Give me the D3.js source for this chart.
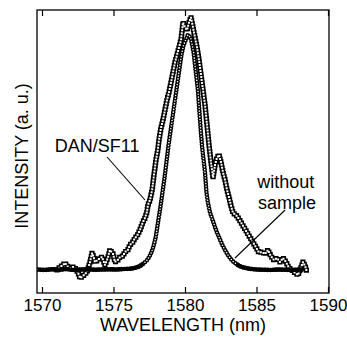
<!DOCTYPE html>
<html>
<head>
<meta charset="utf-8">
<script src="https://cdn.jsdelivr.net/npm/d3@7"></script>
<style>
  body { margin: 0; background: #fff; }
  text { font-family: "Liberation Sans", Arial, Helvetica, sans-serif; fill: #000; }
</style>
</head>
<body>
<svg width="347" height="338"></svg>
<script>
  // wavelength ticks (nm)
  var xTicks = [1570, 1575, 1580, 1585, 1590];

  // [wavelength nm, intensity a.u.]
  var withoutSample = [
    [1569.7,0.2],[1570.2,0.0],[1570.7,0.3],[1571.2,0.1],[1571.7,0.4],[1572.2,0.0],[1572.7,0.2],
    [1573.2,0.3],[1573.7,0.1],[1574.2,0.2],[1574.7,0.3],[1575.2,0.2],[1575.7,0.4],[1576.1,0.5],
    [1576.4,0.7],[1576.8,1.4],[1577.1,2.6],[1577.3,3.6],[1577.5,5.2],[1577.65,7.0],[1577.8,9.5],
    [1577.95,13],[1578.1,18.5],[1578.25,24],[1578.4,30],[1578.55,36],[1578.7,43],[1578.85,50],
    [1579.0,56],[1579.15,62],[1579.3,68],[1579.45,74],[1579.6,80],[1579.75,86],[1579.9,90],
    [1580.05,92],[1580.2,94],[1580.3,93.5],[1580.4,93],[1580.5,90],[1580.6,87],[1580.7,82],
    [1580.8,77],[1580.9,72],[1581.0,64],[1581.1,56],[1581.2,49],[1581.3,44],[1581.4,39],
    [1581.5,31],[1581.6,27],[1581.75,23],[1581.9,20.5],[1582.05,18],[1582.2,15.5],[1582.35,13.5],
    [1582.5,11.5],[1582.65,9.5],[1582.8,8],[1583.0,6],[1583.2,4.4],[1583.4,3.2],[1583.6,2.4],
    [1583.8,1.6],[1584.1,1.0],[1584.5,0.5],[1585.0,0.2],[1585.5,0.1],[1586.0,0.0],[1586.5,0.2],
    [1587.0,0.1],[1587.5,0.0],[1588.0,0.2],[1588.3,0.1]
  ];

  var danSF11 = [
    [1571.05,0],[1571.25,1.2],[1571.47,2],[1571.6,2.8],[1571.78,1.5],[1571.96,0.8],[1572.15,1.2],
    [1572.3,0.8],[1572.5,-0.8],[1572.66,-3.2],[1572.87,-2.4],[1573.0,-1.6],[1573.15,-0.8],
    [1573.36,3.2],[1573.5,6.8],[1573.6,5.5],[1573.7,3.2],[1573.9,4],[1574.05,4.8],[1574.2,5.2],
    [1574.4,2],[1574.6,4.8],[1574.75,8],[1574.97,6.4],[1575.1,3.2],[1575.3,4],[1575.45,5.2],
    [1575.66,5.6],[1575.8,7.2],[1576.0,8],[1576.15,10],[1576.36,11.2],[1576.5,12.8],[1576.64,13.6],
    [1576.85,16],[1577.06,19.2],[1577.2,20.8],[1577.34,23.2],[1577.41,26],[1577.55,28],[1577.7,32],
    [1577.83,38],[1577.97,44],[1578.1,48],[1578.18,52],[1578.32,56.8],[1578.46,60],[1578.6,64],
    [1578.74,68],[1578.88,71],[1579.02,75],[1579.16,79],[1579.3,83],[1579.44,86],[1579.58,89],
    [1579.72,92],[1579.8,96],[1579.86,99],[1580.0,97],[1580.14,96],[1580.28,99],[1580.42,101],
    [1580.56,97],[1580.7,93],[1580.84,89],[1580.98,84],[1581.12,78],[1581.26,72],[1581.4,66],
    [1581.54,58],[1581.68,50],[1581.82,43],[1581.96,37],[1582.1,42],[1582.24,45],[1582.38,46],
    [1582.52,43],[1582.66,39],[1582.8,36],[1582.94,32],[1583.08,29],[1583.22,25.6],[1583.36,22.8],
    [1583.57,22],[1583.7,21],[1583.92,19],[1584.13,17],[1584.34,15],[1584.55,13],[1584.76,11],
    [1584.97,9],[1585.17,7],[1585.38,7.2],[1585.6,6.4],[1585.8,8],[1586.0,5.6],[1586.22,4],
    [1586.43,4.8],[1586.64,3.2],[1586.85,4.8],[1587.06,3.2],[1587.27,0.8],[1587.48,0],
    [1587.7,-1.2],[1587.9,-2],[1588.1,0.8],[1588.25,3.2],[1588.4,1.6],[1588.53,-0.8]
  ];

  var svg = d3.select("svg");
  var frame = {left: 37, right: 329, top: 10, bottom: 293};

  var x = d3.scaleLinear().domain([1570, 1590]).range([42, 328]);
  var y = d3.scaleLinear().domain([0, 100]).range([270, 20]);

  svg.append("clipPath").attr("id", "plot")
    .append("rect")
    .attr("x", frame.left).attr("y", frame.top)
    .attr("width", frame.right - frame.left).attr("height", frame.bottom - frame.top);

  var line = d3.line()
    .x(function(d) { return x(d[0]); })
    .y(function(d) { return y(d[1]); });

  var g = svg.append("g").attr("clip-path", "url(#plot)");

  // markers as a chain of open symbols along the measured trace
  function drawSeries(data, cap, outer, inner, gap) {
    g.append("path").attr("d", line(data))
      .attr("fill", "none").attr("stroke", "#000")
      .attr("stroke-width", outer).attr("stroke-linecap", cap)
      .attr("stroke-dasharray", "0 " + gap);
    g.append("path").attr("d", line(data))
      .attr("fill", "none").attr("stroke", "#fff")
      .attr("stroke-width", inner).attr("stroke-linecap", cap)
      .attr("stroke-dasharray", "0 " + gap);
  }

  drawSeries(danSF11, "square", 5.2, 2.0, 3.0);
  drawSeries(withoutSample, "round", 4.6, 1.6, 2.8);

  // flat baseline of the reference trace looks solid
  g.append("path")
    .attr("d", d3.line()
      .defined(function(d) { return d[1] < 3; })
      .x(function(d) { return x(d[0]); })
      .y(function(d) { return y(d[1]); })(withoutSample))
    .attr("fill", "none").attr("stroke", "#000").attr("stroke-width", 4.2);

  // frame
  svg.append("rect")
    .attr("x", frame.left).attr("y", frame.top)
    .attr("width", frame.right - frame.left).attr("height", frame.bottom - frame.top)
    .attr("fill", "none").attr("stroke", "#000").attr("stroke-width", 1.3);

  var bottomAxis = svg.append("g")
    .attr("transform", "translate(0," + frame.bottom + ")")
    .call(d3.axisBottom(x).tickValues(xTicks).tickFormat(d3.format("d"))
      .tickSizeInner(-6).tickSizeOuter(0).tickPadding(6));
  bottomAxis.select(".domain").remove();
  bottomAxis.selectAll("line").attr("stroke", "#000").attr("stroke-width", 1.2);
  bottomAxis.selectAll("text").style("font-size", "17px")
    .style("font-family", "'Liberation Sans', Arial, Helvetica, sans-serif");

  var topAxis = svg.append("g")
    .attr("transform", "translate(0," + frame.top + ")")
    .call(d3.axisTop(x).tickValues(xTicks).tickSizeInner(-6).tickSizeOuter(0).tickFormat(""));
  topAxis.select(".domain").remove();
  topAxis.selectAll("line").attr("stroke", "#000").attr("stroke-width", 1.2);

  // axis titles
  svg.append("text")
    .attr("x", 183).attr("y", 331)
    .attr("text-anchor", "middle").style("font-size", "18px")
    .text("WAVELENGTH (nm)");

  svg.append("text")
    .attr("transform", "translate(28,156) rotate(-90)")
    .attr("text-anchor", "middle").style("font-size", "18px")
    .text("INTENSITY (a. u.)");

  // annotations
  svg.append("text")
    .attr("x", x(1570.9)).attr("y", y(47.2))
    .style("font-size", "18px")
    .text("DAN/SF11");
  svg.append("line")
    .attr("x1", x(1574.55)).attr("y1", y(45.2))
    .attr("x2", x(1577.2)).attr("y2", y(28))
    .attr("stroke", "#000").attr("stroke-width", 1.1);

  svg.append("text")
    .attr("x", x(1585.05)).attr("y", y(32.8))
    .style("font-size", "18px")
    .text("without");
  svg.append("text")
    .attr("x", x(1585.1)).attr("y", y(24.4))
    .style("font-size", "18px")
    .text("sample");
  svg.append("line")
    .attr("x1", x(1583.5)).attr("y1", y(4.8))
    .attr("x2", x(1587.0)).attr("y2", y(24))
    .attr("stroke", "#000").attr("stroke-width", 1.1);
</script>
</body>
</html>
